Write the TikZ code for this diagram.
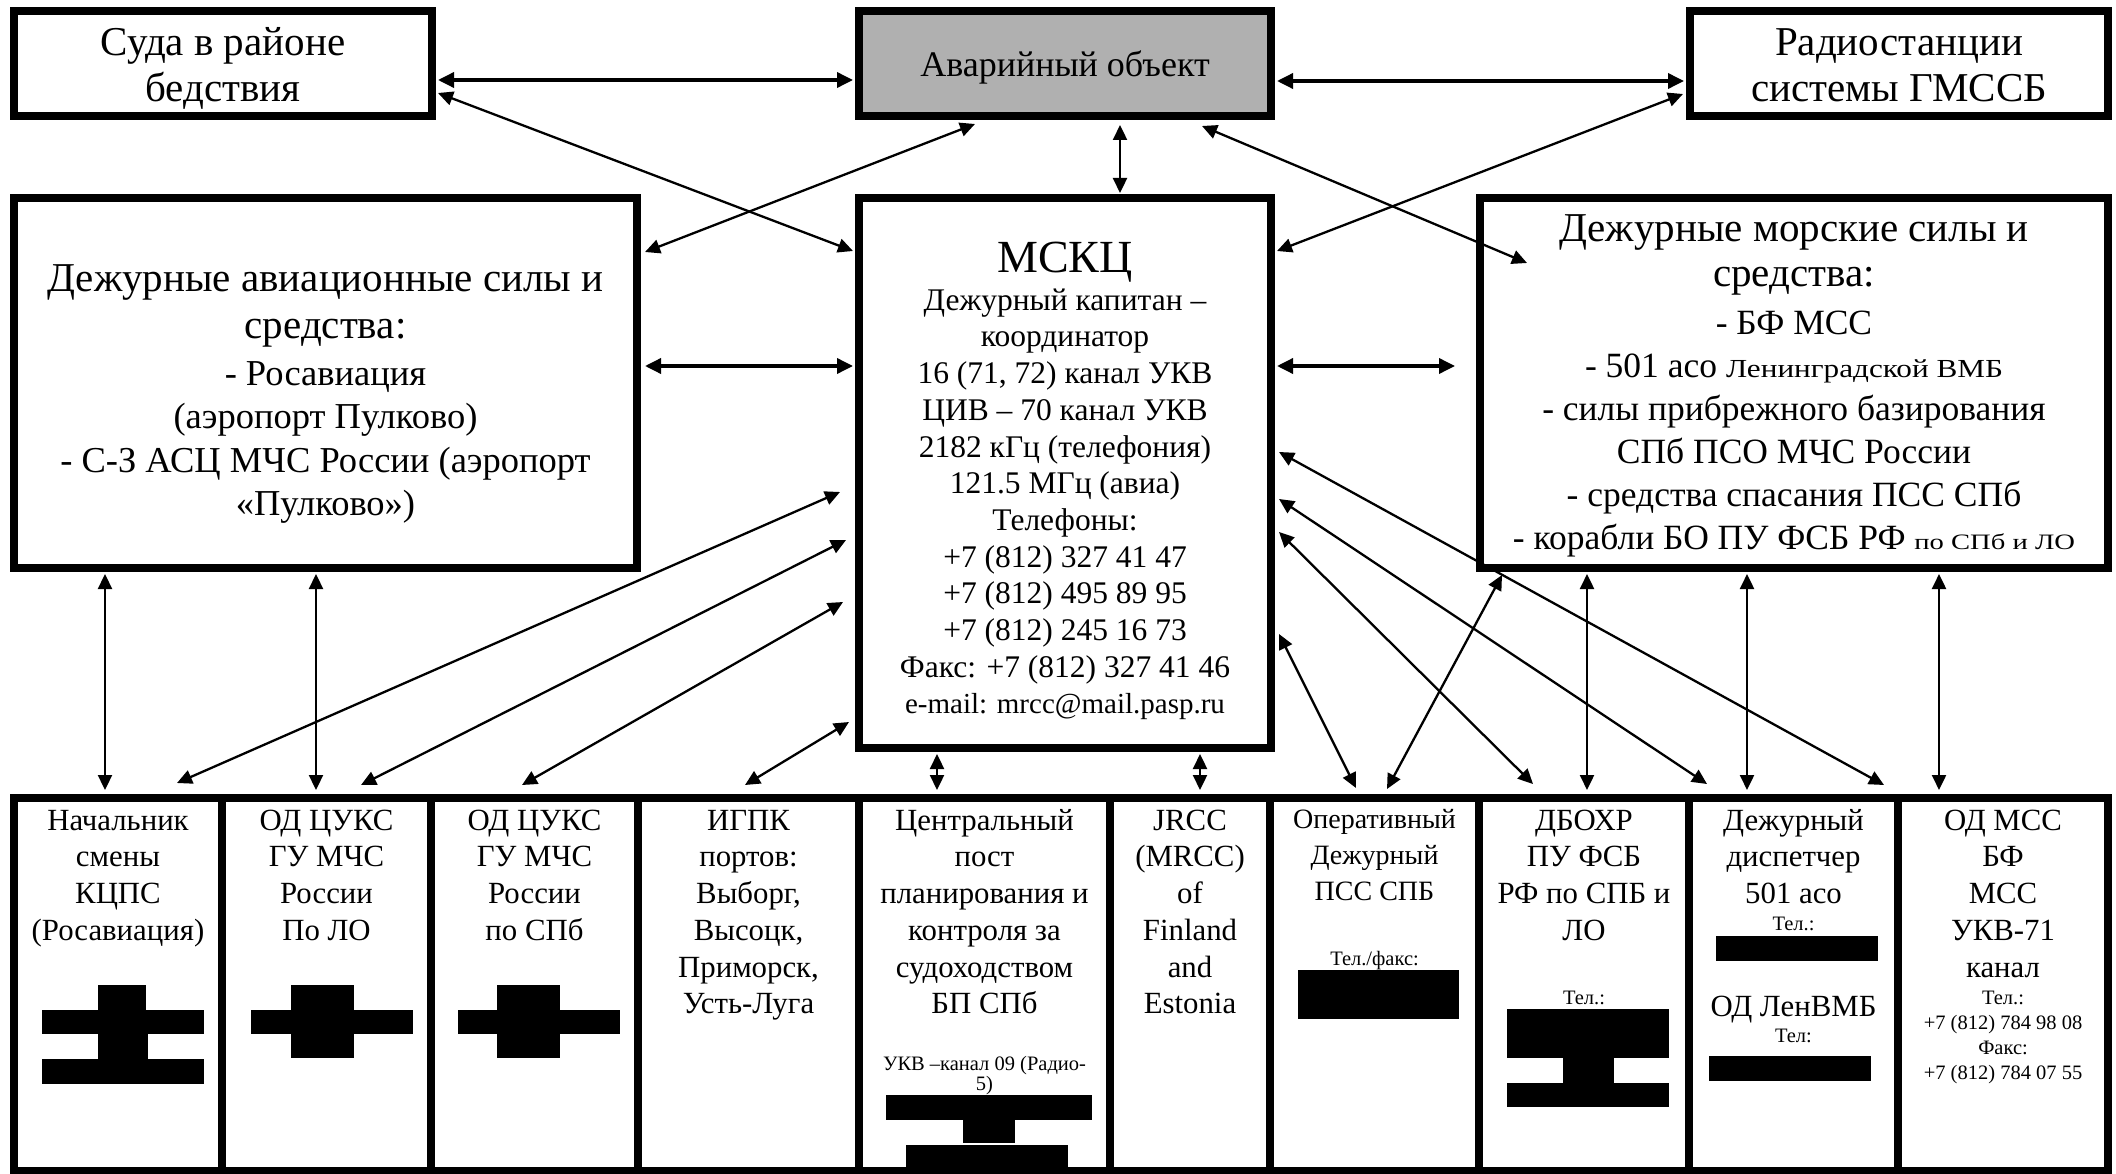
\documentclass[tikz,border=0pt]{standalone}
\usepackage{fontspec}
\setmainfont{Liberation Serif}
\newfontfamily\wideA[FakeStretch=1.3]{Liberation Serif}
\newfontfamily\wideB[FakeStretch=1.2]{Liberation Serif}
\usetikzlibrary{arrows.meta,calc}
\newcommand\Bst[1]{\rule{0pt}{#1pt}}
\newcommand\fsz[2]{\fontsize{#1}{#2}\selectfont}
\begin{document}
\begin{tikzpicture}[x=1pt,y=-1pt,
  >={Triangle[length=15pt,width=14pt]},
  box/.style={draw=black, line width=8pt, rectangle, inner sep=0pt},
  lbl/.style={inner sep=0pt, anchor=north, align=center, text=black},
  arr/.style={<->, line width=2.3pt},
  arrT/.style={<->, line width=3.5pt, >={Triangle[length=16pt,width=15pt]}},
  redact/.style={fill=black}]
\useasboundingbox (0,0) rectangle (2116,1174);
\fill[white] (0,0) rectangle (2116,1174);

% ---------- boxes ----------
\node[box, minimum width=418pt, minimum height=105pt] (suda) at (223,63.5) {};
\node[box, fill={rgb,255:red,176;green,176;blue,176}, minimum width=412pt, minimum height=105pt] (avar) at (1065,63.5) {};
\node[box, minimum width=418pt, minimum height=105pt] (radio) at (1899,63.5) {};
\node[box, minimum width=623pt, minimum height=370pt] (avia) at (325.5,383) {};
\node[box, minimum width=412pt, minimum height=550pt] (mskc) at (1065,473) {};
\node[box, minimum width=628pt, minimum height=370pt] (more) at (1794,383) {};

\node[box, minimum width=208pt, minimum height=373pt] (col1) at (118,984.5) {};
\node[box, minimum width=209pt, minimum height=373pt] (col2) at (326.5,984.5) {};
\node[box, minimum width=207pt, minimum height=373pt] (col3) at (534.5,984.5) {};
\node[box, minimum width=221pt, minimum height=373pt] (col4) at (748.5,984.5) {};
\node[box, minimum width=251pt, minimum height=373pt] (col5) at (984.5,984.5) {};
\node[box, minimum width=160pt, minimum height=373pt] (col6) at (1190,984.5) {};
\node[box, minimum width=209pt, minimum height=373pt] (col7) at (1374.5,984.5) {};
\node[box, minimum width=210pt, minimum height=373pt] (col8) at (1584,984.5) {};
\node[box, minimum width=209pt, minimum height=373pt] (col9) at (1793.5,984.5) {};
\node[box, minimum width=210pt, minimum height=373pt] (col10) at (2003,984.5) {};

% ---------- texts: top ----------
\node[lbl, font=\fsz{41}{46}] (t-suda) at (223,13) {\Bst{42}Суда в районе\\бедствия};
\node[lbl, font=\fsz{36}{42}] (t-avar) at (1065,39) {\Bst{37}Аварийный объект};
\node[lbl, font=\fsz{41}{46}] (t-radio) at (1899,13) {\Bst{42}Радиостанции\\системы ГМССБ};

\node[lbl, font=\fsz{41}{47}] (t-avia-h) at (325.5,249) {\Bst{42}Дежурные авиационные силы и\\средства:};
\node[lbl, font=\fsz{36.5}{43.5}] (t-avia-l) at (325.5,348) {\Bst{37}- Росавиация\\(аэропорт Пулково)\\- С-З АСЦ МЧС России (аэропорт\\«Пулково»)};

\node[lbl, font=\fsz{46}{50}] (t-mskc-h) at (1065,225) {\Bst{47}МСКЦ};
\node[lbl, font=\fsz{31.5}{36.7}] (t-mskc-l) at (1065,278) {\Bst{32}Дежурный капитан –\\координатор\\16 (71, 72) канал УКВ\\ЦИВ – 70 канал УКВ\\2182 кГц (телефония)\\121.5 МГц (авиа)\\Телефоны:\\+7 (812) 327 41 47\\+7 (812) 495 89 95\\+7 (812) 245 16 73\\Факс: +7 (812) 327 41 46\\{\fsz{29}{36.7}e-mail: mrcc@mail.pasp.ru}};

\node[lbl, font=\fsz{41}{45}] (t-more-h) at (1794,199) {\Bst{42}Дежурные морские силы и\\средства:};
\node[lbl, font=\fsz{35.5}{43}] (t-more-l) at (1794,298) {\Bst{36}- БФ МСС\\- 501 асо {\wideB\fsz{26}{43}Ленинградской ВМБ}\\- силы прибрежного базирования\\СПб ПСО МЧС России\\- средства спасания ПСС СПб\\- корабли БО ПУ ФСБ РФ {\wideA\fsz{22}{43}по СПб и ЛО}};

% ---------- texts: bottom columns ----------
\node[lbl, font=\fsz{30.8}{36.7}] (t-c1) at (118,799) {\Bst{31}Начальник\\смены\\КЦПС\\(Росавиация)};
\node[lbl, font=\fsz{30.8}{36.7}] (t-c2) at (326.5,799) {\Bst{31}ОД ЦУКС\\ГУ МЧС\\России\\По ЛО};
\node[lbl, font=\fsz{30.8}{36.7}] (t-c3) at (534.5,799) {\Bst{31}ОД ЦУКС\\ГУ МЧС\\России\\по СПб};
\node[lbl, font=\fsz{30.8}{36.7}] (t-c4) at (748.5,799) {\Bst{31}ИГПК\\портов:\\Выборг,\\Высоцк,\\Приморск,\\Усть-Луга};
\node[lbl, font=\fsz{30.8}{36.7}] (t-c5) at (984.5,799) {\Bst{31}Центральный\\пост\\планирования и\\контроля за\\судоходством\\БП СПб};
\node[lbl, font=\fsz{20.5}{20}] (t-c5s) at (984.5,1049) {\Bst{21}УКВ –канал 09 (Радио-\\5)};
\node[lbl, font=\fsz{30.8}{36.7}] (t-c6) at (1190,799) {\Bst{31}JRCC\\(MRCC)\\of\\Finland\\and\\Estonia};
\node[lbl, font=\fsz{28}{36}] (t-c7) at (1374.5,799) {\Bst{29}Оперативный\\Дежурный\\ПСС СПБ};
\node[lbl, font=\fsz{20.5}{25}] (t-c7s) at (1374.5,944) {\Bst{21}Тел./факс:};
\node[lbl, font=\fsz{30.8}{36.7}] (t-c8) at (1584,799) {\Bst{31}ДБОХР\\ПУ ФСБ\\РФ по СПБ и\\ЛО};
\node[lbl, font=\fsz{20.5}{25}] (t-c8s) at (1584,983) {\Bst{21}Тел.:};
\node[lbl, font=\fsz{30.8}{36.7}] (t-c9) at (1793.5,799) {\Bst{31}Дежурный\\диспетчер\\501 асо};
\node[lbl, font=\fsz{20.5}{25}] (t-c9s) at (1793.5,909) {\Bst{21}Тел.:};
\node[lbl, font=\fsz{30.8}{36.7}] (t-c9b) at (1793.5,985) {\Bst{31}ОД ЛенВМБ};
\node[lbl, font=\fsz{20.5}{25}] (t-c9t) at (1793.5,1021) {\Bst{21}Тел:};
\node[lbl, font=\fsz{30.8}{36.7}] (t-c10) at (2003,799) {\Bst{31}ОД МСС\\БФ\\МСС\\УКВ-71\\канал};
\node[lbl, font=\fsz{20.5}{25}] (t-c10s) at (2003,983) {\Bst{21}Тел.:\\+7 (812) 784 98 08\\Факс:\\+7 (812) 784 07 55};

% ---------- redacted blocks ----------
\fill[redact] (98,985) rectangle (146,1010);
\fill[redact] (42,1009.5) rectangle (204,1034);
\fill[redact] (98,1033.5) rectangle (148,1059);
\fill[redact] (42,1058.5) rectangle (204,1084);

\fill[redact] (291,985) rectangle (354,1010);
\fill[redact] (251,1009.5) rectangle (413,1034);
\fill[redact] (291,1033.5) rectangle (354,1058);

\fill[redact] (497,985) rectangle (560,1010);
\fill[redact] (458,1009.5) rectangle (620,1034);
\fill[redact] (497,1033.5) rectangle (560,1058);

\fill[redact] (886,1095) rectangle (1092,1120);
\fill[redact] (963,1119.5) rectangle (1015,1143);
\fill[redact] (906,1145) rectangle (1068,1168);

\fill[redact] (1298,970) rectangle (1459,1019);

\fill[redact] (1507,1009) rectangle (1669,1058);
\fill[redact] (1563,1057.5) rectangle (1614,1083);
\fill[redact] (1507,1082.5) rectangle (1669,1107);

\fill[redact] (1716,936) rectangle (1878,960.5);
\fill[redact] (1709,1056) rectangle (1871,1081);

% ---------- connectors: upper part ----------
\draw[arrT] ($(suda.east |- 0,80)+(2,0)$) -- ($(avar.west |- 0,80)+(-2,0)$);
\draw[arrT] ($(avar.east |- 0,81)+(2,0)$) -- ($(radio.west |- 0,81)+(-2,0)$);
\draw[arr] ($(suda.east |- 0,93)+(2,0)$) -- ($(mskc.west |- 0,251)+(-2,0)$);
\draw[arr] ($(avia.east |- 0,252)+(4,0)$) -- ($(avar.south -| 975,0)+(0,4)$);
\draw[arrT] ($(avia.east |- 0,366)+(4,0)$) -- ($(mskc.west |- 0,366)+(-2,0)$);
\draw[arr] ($(mskc.east |- 0,251)+(2,0)$) -- ($(radio.west |- 0,94)+(-3,0)$);
\draw[arr] ($(avar.south -| 1202,0)+(0,6)$) -- ($(more.north west)+(51,69)$);
\draw[arrT] ($(mskc.east |- 0,366)+(2,0)$) -- ($(more.west |- 0,366)+(-21,0)$);
\draw[arr] ($(avar.south -| 1120,0)+(0,5)$) -- ($(mskc.north -| 1120,0)+(0,-1)$);

% ---------- connectors: lower part ----------
\draw[arr] ($(avia.south -| 105,0)+(0,2)$) -- ($(col1.north -| 105,0)+(0,-4)$);
\draw[arr] ($(avia.south -| 316,0)+(0,2)$) -- ($(col2.north -| 316,0)+(0,-4)$);
\draw[arr] ($(mskc.west |- 0,492)+(-15,0)$) -- ($(col1.north -| 177,0)+(0,-11)$);
\draw[arr] ($(mskc.west |- 0,540)+(-9,0)$) -- ($(col2.north -| 361,0)+(0,-9)$);
\draw[arr] ($(mskc.west |- 0,602)+(-12,0)$) -- ($(col3.north -| 522,0)+(0,-9)$);
\draw[arr] ($(mskc.west |- 0,722)+(-6,0)$) -- ($(col4.north -| 745,0)+(0,-9)$);
\draw[arr] ($(mskc.south -| 937,0)+(0,2)$) -- ($(col5.north -| 937,0)+(0,-4)$);
\draw[arr] ($(mskc.south -| 1200,0)+(0,2)$) -- ($(col6.north -| 1200,0)+(0,-4)$);
\draw[arr] ($(mskc.east |- 0,634)+(4,0)$) -- ($(col7.north -| 1356,0)+(0,-6)$);
\draw[arr] ($(more.south west)+(26,3)$) -- ($(col7.north -| 1387,0)+(0,-5)$);
\draw[arr] ($(mskc.east |- 0,532)+(4,0)$) -- ($(col8.north -| 1533,0)+(0,-10)$);
\draw[arr] ($(mskc.east |- 0,499)+(4,0)$) -- ($(col9.north -| 1707,0)+(0,-10)$);
\draw[arr] ($(mskc.east |- 0,452)+(4,0)$) -- ($(col9.north -| 1884,0)+(0,-9)$);
\draw[arr] ($(more.south -| 1587,0)+(0,2)$) -- ($(col8.north -| 1587,0)+(0,-4)$);
\draw[arr] ($(more.south -| 1747,0)+(0,2)$) -- ($(col9.north -| 1747,0)+(0,-4)$);
\draw[arr] ($(more.south -| 1939,0)+(0,2)$) -- ($(col10.north -| 1939,0)+(0,-4)$);
\end{tikzpicture}
\end{document}
